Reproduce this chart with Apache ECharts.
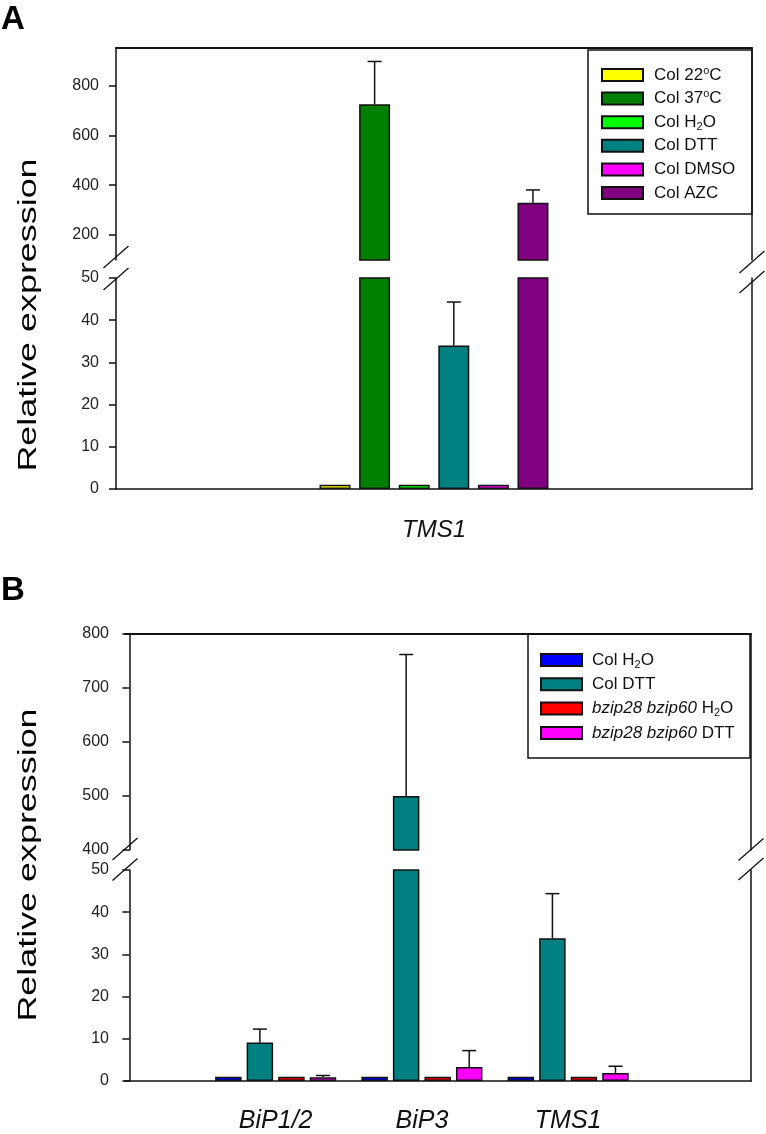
<!DOCTYPE html>
<html><head><meta charset="utf-8">
<script src="https://cdn.jsdelivr.net/npm/echarts@6/dist/echarts.min.js"></script>
<style>html,body{margin:0;padding:0;background:#fff}#c{width:766px;height:1134px}</style>
</head><body><div id="c"></div><script>
// ---------- Panel A data ----------
const catsA = ['TMS1'];
const idsA = ['A0', 'A1', 'A2', 'A3', 'A4', 'A5'];
const labelsA = ['Col 22{sup|o}C', 'Col 37{sup|o}C', 'Col H{sub|2}O', 'Col DTT', 'Col DMSO', 'Col AZC'];
const valuesA = [1, 724, 1, 34, 1, 330];
const errorsA = [0, 172, 0, 10.3, 0, 51];
const colorsA = ['#ffff00', '#008000', '#00ff00', '#008080', '#ff00ff', '#800080'];
const ticksAUpper = [200, 400, 600, 800];

// ---------- Panel B data ----------
const catsB = ['BiP1/2', 'BiP3', 'TMS1'];
const idsB = ['B0', 'B1', 'B2', 'B3'];
const labelsB = ['Col H{sub|2}O', 'Col DTT', '{i|bzip28 bzip60} H{sub|2}O', '{i|bzip28 bzip60} DTT'];
const valuesB = [
  [1, 1, 1],
  [9.1, 500, 33.8],
  [1, 1, 1],
  [0.9, 3.3, 1.9]
];
const errorsB = [
  [0, 0, 0],
  [3.2, 262, 10.6],
  [0, 0, 0],
  [0.4, 3.9, 1.6]
];
const colorsB = ['#0000ff', '#008080', '#ff0000', '#ff00ff'];

// ---------- styling ----------
const FONT = '"Liberation Sans", Arial, Helvetica, sans-serif';
const INK = '#111';
const BW_A = 31, GAP_A = 0.277;
const BW_B = 26.5, GAP_B = 0.19;
const upperMinA = 100, upperMaxA = 950;
const upperMinB = 400, upperMaxB = 800;
const brokenMax = 50;

const chart = echarts.init(document.getElementById('c'));

function errRender(bw, gap, n) {
  return function (params, api) {
    const x = api.value(0), v = api.value(1), e = api.value(2), s = api.value(3);
    if (!(e > 0)) return null;
    const cs = params.coordSys;
    const p0 = api.coord([x, v]);
    const p1 = api.coord([x, v + e]);
    if (p0[1] < cs.y - 0.5 || p0[1] > cs.y + cs.height + 0.5) return null;
    const y1 = Math.max(p1[1], cs.y);
    const cx = p0[0] + (s - (n - 1) / 2) * bw * (1 + gap);
    const st = { stroke: INK, lineWidth: 1.5 };
    return { type: 'group', children: [
      { type: 'line', shape: { x1: cx, y1: p0[1], x2: cx, y2: y1 }, style: st },
      { type: 'line', shape: { x1: cx - 7, y1: y1, x2: cx + 7, y2: y1 }, style: st }
    ] };
  };
}

const axisLineStyle = { show: true, lineStyle: { color: INK, width: 1.5 } };
const tickStyle = { show: true, length: 7, lineStyle: { color: INK, width: 1.5 } };
const tickLabel = { color: '#222', fontSize: 16, fontFamily: FONT };

function frameY(grid, min, max) {
  return { type: 'value', gridIndex: grid, position: 'right', min: min, max: max,
    axisLine: axisLineStyle, axisTick: { show: false }, axisLabel: { show: false }, splitLine: { show: false } };
}

const xAxes = [
  { type: 'category', gridIndex: 0, data: catsA, position: 'top', axisLine: { show: true, lineStyle: { color: INK, width: 2 } },
    axisTick: { show: false }, axisLabel: { show: false } },
  { type: 'category', gridIndex: 1, data: catsA, position: 'bottom', axisLine: axisLineStyle,
    axisTick: { show: false }, axisLabel: { color: INK, fontSize: 24, fontStyle: 'italic', fontFamily: FONT, margin: 29 } },
  { type: 'value', gridIndex: 2, min: -0.03, max: 4.25, position: 'top', axisLine: { show: true, lineStyle: { color: INK, width: 2 } },
    axisTick: { show: false }, axisLabel: { show: false }, splitLine: { show: false } },
  { type: 'value', gridIndex: 3, min: -0.03, max: 4.25, position: 'bottom', axisLine: axisLineStyle,
    axisTick: { show: false }, splitLine: { show: false },
    axisLabel: { customValues: [1, 2, 3], formatter: v => catsB[Math.round(v) - 1] || '',
      color: INK, fontSize: 25, fontStyle: 'italic', fontFamily: FONT, margin: 28 } }
];

const yAxes = [
  { type: 'value', gridIndex: 0, min: upperMinA, max: upperMaxA, axisLine: axisLineStyle, splitLine: { show: false },
    axisTick: Object.assign({ customValues: ticksAUpper }, tickStyle),
    axisLabel: Object.assign({ customValues: ticksAUpper, margin: 17 }, tickLabel) },
  frameY(0, upperMinA, upperMaxA),
  { type: 'value', gridIndex: 1, min: 0, max: brokenMax, interval: 10, axisLine: axisLineStyle, splitLine: { show: false },
    axisTick: tickStyle, axisLabel: Object.assign({ margin: 17 }, tickLabel) },
  frameY(1, 0, brokenMax),
  { type: 'value', gridIndex: 2, min: upperMinB, max: upperMaxB, interval: 100, axisLine: axisLineStyle, splitLine: { show: false },
    axisTick: tickStyle, axisLabel: Object.assign({ margin: 16 }, tickLabel) },
  frameY(2, upperMinB, upperMaxB),
  { type: 'value', gridIndex: 3, min: 0, max: brokenMax, interval: 10, axisLine: axisLineStyle, splitLine: { show: false },
    axisTick: tickStyle, axisLabel: Object.assign({ margin: 16 }, tickLabel) },
  frameY(3, 0, brokenMax)
];

const barStyle = c => ({ color: c, borderColor: INK, borderWidth: 1.5 });
const series = [];
// Panel A bars
idsA.forEach((id, i) => {
  series.push({ name: id, type: 'bar', xAxisIndex: 0, yAxisIndex: 0, barWidth: BW_A, barGap: (GAP_A * 100) + '%',
    itemStyle: barStyle(colorsA[i]), data: [valuesA[i] > upperMinA ? valuesA[i] : '-'] });
  series.push({ name: id, type: 'bar', xAxisIndex: 1, yAxisIndex: 2, barWidth: BW_A, barGap: (GAP_A * 100) + '%',
    itemStyle: barStyle(colorsA[i]), data: [valuesA[i]] });
});
const errDataA = valuesA.map((v, i) => [0, v, errorsA[i], i]);
series.push({ type: 'custom', xAxisIndex: 0, yAxisIndex: 0, z: 5, renderItem: errRender(BW_A, GAP_A, idsA.length), data: errDataA });
series.push({ type: 'custom', xAxisIndex: 1, yAxisIndex: 2, z: 5, renderItem: errRender(BW_A, GAP_A, idsA.length), data: errDataA });

// Panel B bars
idsB.forEach((id, s) => {
  series.push({ name: id, type: 'bar', xAxisIndex: 2, yAxisIndex: 4, barWidth: BW_B, barGap: (GAP_B * 100) + '%',
    itemStyle: barStyle(colorsB[s]),
    data: valuesB[s].map((v, g) => [g + 1, v > upperMinB ? v : '-']) });
  series.push({ name: id, type: 'bar', xAxisIndex: 3, yAxisIndex: 6, barWidth: BW_B, barGap: (GAP_B * 100) + '%',
    itemStyle: barStyle(colorsB[s]),
    data: valuesB[s].map((v, g) => [g + 1, v]) });
});
const errDataB = [];
valuesB.forEach((row, s) => row.forEach((v, g) => errDataB.push([g + 1, v, errorsB[s][g], s])));
series.push({ type: 'custom', xAxisIndex: 2, yAxisIndex: 4, z: 5, renderItem: errRender(BW_B, GAP_B, idsB.length), data: errDataB });
series.push({ type: 'custom', xAxisIndex: 3, yAxisIndex: 6, z: 5, renderItem: errRender(BW_B, GAP_B, idsB.length), data: errDataB });

const richText = {
  sup: { fontSize: 11, lineHeight: 9, verticalAlign: 'top', fontFamily: FONT, color: INK },
  sub: { fontSize: 11, lineHeight: 9, verticalAlign: 'bottom', fontFamily: FONT, color: INK },
  i: { fontSize: 17, fontStyle: 'italic', fontFamily: FONT, color: INK, lineHeight: 20 }
};

function legend(ids, labels, left, top, gap, pad) {
  return { orient: 'vertical', left: left, top: top, padding: 0, itemWidth: 41, itemHeight: 12, itemGap: gap,
    selectedMode: false, data: ids, icon: 'rect',
    formatter: name => labels[ids.indexOf(name)],
    textStyle: { fontSize: 17, fontFamily: FONT, color: INK, lineHeight: 20, padding: [0, 0, 0, pad], rich: richText } };
}

function brk(cx, cy) {
  return { type: 'line', z: 100, shape: { x1: cx - 12.5, y1: cy + 11, x2: cx + 12.5, y2: cy - 11 }, style: { stroke: INK, lineWidth: 1.3 } };
}

chart.setOption({
  animation: false,
  backgroundColor: '#fff',
  grid: [
    { left: 116, width: 636, top: 48, height: 212 },
    { left: 116, width: 636, top: 278, height: 211 },
    { left: 125, width: 626, top: 634, height: 216 },
    { left: 125, width: 626, top: 870, height: 215 }
  ],
  xAxis: xAxes,
  yAxis: yAxes,
  legend: [
    legend(idsA, labelsA, 601, 65, 3.6, 6),
    legend(idsB, labelsB, 540, 650, 4.3, 5)
  ],
  series: series,
  graphic: [
    { type: 'rect', z: 100, shape: { x: 588, y: 50, width: 164, height: 164 }, style: { fill: 'none', stroke: INK, lineWidth: 1.5 } },
    { type: 'rect', z: 100, shape: { x: 528, y: 634, width: 222, height: 124 }, style: { fill: 'none', stroke: INK, lineWidth: 1.5 } },
    brk(116, 257), brk(116, 279), brk(752, 262), brk(752, 282),
    brk(125, 849), brk(125, 869.5), brk(751, 849.5), brk(751, 869),
    { type: 'text', x: 1, y: 3, style: { text: 'A', fontSize: 33, fontWeight: 'bold', fontFamily: FONT, fill: '#000' } },
    { type: 'text', x: 1, y: 574, style: { text: 'B', fontSize: 33, fontWeight: 'bold', fontFamily: FONT, fill: '#000' } },
    { type: 'text', x: 29, y: 315, rotation: Math.PI / 2, scaleX: 1.38,
      style: { text: 'Relative expression', textAlign: 'center', textVerticalAlign: 'middle', fontSize: 26, fontFamily: FONT, fill: '#000' } },
    { type: 'text', x: 29, y: 865, rotation: Math.PI / 2, scaleX: 1.38,
      style: { text: 'Relative expression', textAlign: 'center', textVerticalAlign: 'middle', fontSize: 26, fontFamily: FONT, fill: '#000' } }
  ]
});
</script></body></html>
